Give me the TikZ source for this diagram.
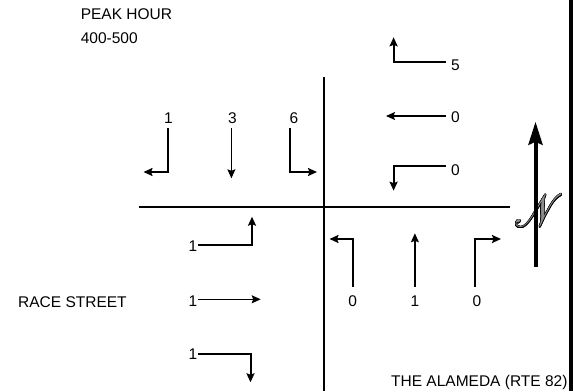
\documentclass[tikz,border=0pt]{standalone}
\usepackage{fontspec}
\setmainfont{Liberation Sans}
\usepackage{contour}
\contourlength{0.6pt}
\DeclareFontFamily{U}{rsfsbig}{\skewchar\font=127}
\DeclareFontShape{U}{rsfsbig}{m}{n}{<-> rsfs10}{}
\newcommand{\scriptN}{\fontsize{46}{46}\usefont{U}{rsfsbig}{m}{n}N}
\definecolor{InkBlack}{HTML}{000000}
\definecolor{NorthGray}{HTML}{8C8C8C}
\usetikzlibrary{arrows.meta,positioning,calc}
\tikzset{
  road/.style={draw=InkBlack, line width=2pt},
  turnArrow/.style={-{Stealth[length=9pt, width=8pt, inset=1.5pt]}, draw=InkBlack, line width=2pt},
  thruArrow/.style={-{Stealth[length=9pt, width=8pt, inset=1.5pt]}, draw=InkBlack, line width=1.2pt},
  northArrow/.style={-{Stealth[length=23pt, width=14pt, inset=3pt]}, draw=InkBlack, line width=4pt},
  volLabel/.style={inner sep=0pt, font=\fontsize{15.5}{18}\selectfont},
  streetLabel/.style={inner sep=0pt, anchor=base west, font=\fontsize{15.5}{18}\selectfont}
}

\begin{document}
\begin{tikzpicture}[x=1pt, y=-1pt]
\useasboundingbox (0,0) rectangle (573,391);

% titles
\node[streetLabel] (peak) at (80.6,19.3) {PEAK HOUR};
\node[streetLabel] (hours) at (80.6,43.3) {400-500};
\node[streetLabel] (race) at (18,307) {RACE STREET};
\node[streetLabel] (alameda) at (391,386.7) {THE ALAMEDA (RTE 82)};

% roads
\coordinate (vTop) at (324,77.3);
\coordinate (vBot) at (324,391);
\coordinate (hLeft) at (139,206.7);
\coordinate (hRight) at (510,206.7);
\draw[road] (vTop) -- (vBot);
\draw[road] (hLeft) -- (hRight);
\coordinate (edgeTop) at (571,0);
\coordinate (edgeBot) at (571,391);
\draw[InkBlack, line width=4pt] (edgeTop) -- (edgeBot);

% westbound (from east)
\node[volLabel] (wbL) at (455.5,65.3) {5};
\node[volLabel] (wbT) at (455.5,117) {0};
\node[volLabel] (wbR) at (455.5,170) {0};
\coordinate (wbLs) at (446,61.7);
\coordinate (wbLe) at (393.6,37.3);
\coordinate (wbTs) at (446,116);
\coordinate (wbTe) at (386,116);
\coordinate (wbRs) at (446,165.7);
\coordinate (wbRe) at (393.6,190.7);
\draw[turnArrow] (wbLs) -| (wbLe);
\draw[thruArrow] (wbTs) -- (wbTe);
\draw[turnArrow] (wbRs) -| (wbRe);

% southbound (from north)
\node[volLabel] (sbR) at (168.4,117.7) {1};
\node[volLabel] (sbT) at (232.5,117.7) {3};
\node[volLabel] (sbL) at (294,117.7) {6};
\coordinate (sbRs) at (168.4,128.3);
\coordinate (sbRe) at (143.5,172);
\coordinate (sbTs) at (231.4,128.3);
\coordinate (sbTe) at (231.4,178.3);
\coordinate (sbLs) at (290.4,128.3);
\coordinate (sbLe) at (317,172);
\draw[turnArrow] (sbRs) |- (sbRe);
\draw[thruArrow] (sbTs) -- (sbTe);
\draw[turnArrow] (sbLs) |- (sbLe);

% eastbound (from west)
\node[volLabel] (ebL) at (193,246) {1};
\node[volLabel] (ebT) at (193,301.5) {1};
\node[volLabel] (ebR) at (193,354) {1};
\coordinate (ebLs) at (198,245);
\coordinate (ebLe) at (252,216.7);
\coordinate (ebTs) at (198,299.3);
\coordinate (ebTe) at (260.7,299.3);
\coordinate (ebRs) at (198,354);
\coordinate (ebRe) at (250.5,382.3);
\draw[turnArrow] (ebLs) -| (ebLe);
\draw[thruArrow] (ebTs) -- (ebTe);
\draw[turnArrow] (ebRs) -| (ebRe);

% northbound (from south)
\node[volLabel] (nbL) at (352.6,301.5) {0};
\node[volLabel] (nbT) at (414.9,301.5) {1};
\node[volLabel] (nbR) at (477,301.5) {0};
\coordinate (nbLs) at (352.6,286.7);
\coordinate (nbLe) at (329.5,239);
\coordinate (nbTs) at (414.9,286.7);
\coordinate (nbTe) at (414.9,233.3);
\coordinate (nbRs) at (475,286.7);
\coordinate (nbRe) at (501,239);
\draw[turnArrow] (nbLs) |- (nbLe);
\draw[thruArrow] (nbTs) -- (nbTe);
\draw[turnArrow] (nbRs) |- (nbRe);

% north sign
\node[inner sep=0pt] (north) at (532,211)
  {\scalebox{0.85}[1]{\contour{InkBlack}{\textcolor{NorthGray}{\scriptN}}}};
\coordinate (nBot) at (535.5,266.7);
\coordinate (nTip) at (535.5,121.7);
\draw[northArrow] (nBot) -- (nTip);
\end{tikzpicture}
\end{document}
